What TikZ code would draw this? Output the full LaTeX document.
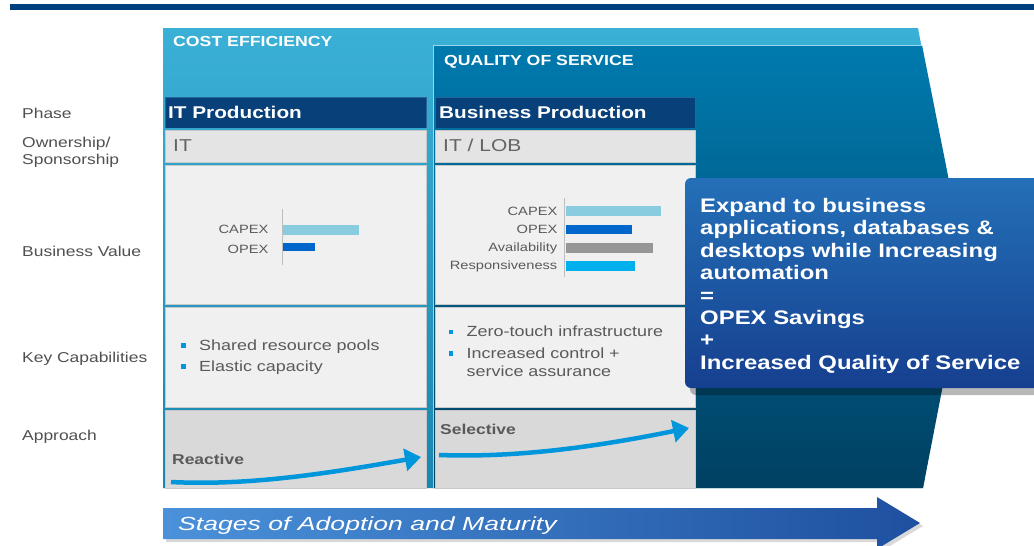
\documentclass[tikz,border=0pt]{standalone}
\usepackage{fontspec}
\setmainfont{Liberation Sans}[FakeStretch=1.22]
\newfontfamily\stagefont{Liberation Sans}[FakeStretch=1.4]
\usetikzlibrary{arrows.meta}
\definecolor{navy}{RGB}{0,62,125}
\definecolor{cyanT}{RGB}{59,176,215}
\definecolor{cyanB}{RGB}{25,135,175}
\definecolor{qosT}{RGB}{0,122,174}
\definecolor{qosB}{RGB}{0,64,98}
\definecolor{qosEdge}{RGB}{150,215,235}
\definecolor{hdr}{RGB}{8,64,122}
\definecolor{hdrEdge}{RGB}{40,100,160}
\definecolor{cellA}{RGB}{228,228,228}
\definecolor{cellB}{RGB}{240,240,240}
\definecolor{cellC}{RGB}{217,217,217}
\definecolor{cellEdge}{RGB}{200,200,200}
\definecolor{lblgray}{RGB}{80,80,80}
\definecolor{txtgray}{RGB}{90,90,90}
\definecolor{owngray}{RGB}{100,100,100}
\definecolor{axisgray}{RGB}{190,190,190}
\definecolor{barlight}{RGB}{137,204,224}
\definecolor{barblue}{RGB}{0,102,204}
\definecolor{bargray}{RGB}{150,150,150}
\definecolor{barcyan}{RGB}{0,176,236}
\definecolor{arrowblue}{RGB}{0,150,220}
\definecolor{callT}{RGB}{36,112,184}
\definecolor{callB}{RGB}{22,63,143}
\definecolor{stageL}{RGB}{75,145,218}
\definecolor{stageR}{RGB}{30,80,160}
\begin{document}
\begin{tikzpicture}[x=1pt,y=-1pt,
  lbl/.style={font=\fontsize{14.3}{17}\selectfont, text=lblgray, anchor=base west, inner sep=0pt},
  band/.style={font=\bfseries\fontsize{14.5}{17}\selectfont, text=white, anchor=base west, inner sep=0pt},
  hdrtxt/.style={font=\bfseries\fontsize{17}{20}\selectfont, text=white, anchor=base west, inner sep=0pt},
  owntxt/.style={font=\fontsize{17.2}{20}\selectfont, text=owngray, anchor=base west, inner sep=0pt},
  bartxt/.style={font=\fontsize{12}{14}\selectfont, text=txtgray, anchor=base east, inner sep=0pt},
  captxt/.style={font=\fontsize{14.7}{18}\selectfont, text=txtgray, anchor=base west, inner sep=0pt},
  apptxt/.style={font=\bfseries\fontsize{14.3}{17}\selectfont, text=txtgray, anchor=base west, inner sep=0pt},
  cellbox/.style={draw=cellEdge, line width=0.7pt},
  bullet/.style={fill=arrowblue},
  approacharrow/.style={draw=arrowblue, line width=4.5pt, -{Triangle[length=16pt,width=22pt]}},
]
\useasboundingbox (0,0) rectangle (1034,546);
\fill[white] (0,0) rectangle (1034,546);
\fill[navy] (10,4) rectangle (1034,9.5);

% background bands
\shade[top color=cyanT, bottom color=cyanB] (163,28) -- (918,28) -- (962,262) -- (923,488) -- (163,488) -- cycle;
\shade[top color=qosT, bottom color=qosB] (433,45) -- (922,45) -- (966,266) -- (923,488) -- (433,488) -- cycle;
\draw[qosEdge, line width=1pt] (433,488) -- (433,45) -- (922,45);

\node[band] (costeff) at (173,46.5) {COST EFFICIENCY};
\node[band] (qos) at (444,65) {QUALITY OF SERVICE};

% left labels
\node[lbl] (phase) at (22,118) {Phase};
\node[lbl] (own1) at (22,147) {Ownership/};
\node[lbl] (own2) at (22,164) {Sponsorship};
\node[lbl] (bval) at (22,256.5) {Business Value};
\node[lbl] (keycap) at (22,362) {Key Capabilities};
\node[lbl] (appr) at (22,440.5) {Approach};

% column 1 cells
\fill[hdr] (165,97) rectangle (426,128);
\draw[hdrEdge, line width=0.8pt] (165,128) -- (165,97) -- (426,97) -- (426,128);
\fill[cellA, cellbox] (165,130) rectangle (426,162);
\fill[cellB, cellbox] (165,165) rectangle (426,304);
\fill[cellB, cellbox] (165,307) rectangle (426,407);
\fill[cellC, cellbox] (165,410) rectangle (426,488);

% column 2 cells
\fill[hdr] (435,97) rectangle (695,128);
\draw[hdrEdge, line width=0.8pt] (435,128) -- (435,97) -- (695,97) -- (695,128);
\fill[cellA, cellbox] (435,130) rectangle (695,162);
\fill[cellB, cellbox] (435,165) rectangle (695,304);
\fill[cellB, cellbox] (435,307) rectangle (695,407);
\fill[cellC, cellbox] (435,410) rectangle (695,488);

\node[hdrtxt] (itprod) at (168,118.5) {IT Production};
\node[hdrtxt] (busprod) at (439,118.5) {Business Production};
\node[owntxt] (it) at (173,151.5) {IT};
\node[owntxt] (itlob) at (443,151.5) {IT / LOB};

% chart 1
\draw[axisgray, line width=1pt] (282,209) -- (282,265);
\fill[barlight] (283,225) rectangle (359,235);
\fill[barblue] (283,242.5) rectangle (315,251);
\node[bartxt] (c1capex) at (268.5,233.5) {CAPEX};
\node[bartxt] (c1opex) at (268.5,253) {OPEX};

% chart 2
\draw[axisgray, line width=1pt] (564,198) -- (564,277);
\fill[barlight] (566,205.7) rectangle (660.5,215.7);
\fill[barblue] (566,225) rectangle (631.5,234);
\fill[bargray] (566,243.3) rectangle (652.5,253.3);
\fill[barcyan] (566,260.7) rectangle (635,270.7);
\node[bartxt] (c2capex) at (557.5,215.7) {CAPEX};
\node[bartxt] (c2opex) at (557.5,233.3) {OPEX};
\node[bartxt] (c2avail) at (557.5,251) {Availability};
\node[bartxt] (c2resp) at (557.5,269) {Responsiveness};

% key capabilities
\fill[bullet] (181.3,343.2) rectangle (185.7,347.6);
\fill[bullet] (181.3,364.2) rectangle (185.7,368.6);
\node[captxt] (shared) at (199,350.5) {Shared resource pools};
\node[captxt] (elastic) at (199,371.5) {Elastic capacity};
\fill[bullet] (448.7,329.5) rectangle (453.1,333.9);
\fill[bullet] (448.7,351.3) rectangle (453.1,355.7);
\node[captxt] (zero) at (466.5,336.5) {Zero-touch infrastructure};
\node[captxt] (incr1) at (466.5,358.3) {Increased control +};
\node[captxt] (incr2) at (466.5,376) {service assurance};

% approach
\node[apptxt] (reactive) at (172,464) {Reactive};
\node[apptxt] (selective) at (440,434) {Selective};
\coordinate (r0) at (171,482);
\coordinate (r1) at (421,457);
\coordinate (s0) at (439,455);
\coordinate (s1) at (689,428);
\draw[approacharrow] (r0) .. controls (250,486) and (330,473) .. (r1);
\draw[approacharrow] (s0) .. controls (520,458) and (600,446) .. (s1);

% callout
\fill[black, opacity=0.28, rounded corners=6pt] (690,184) rectangle (1050,395);
\shade[top color=callT, bottom color=callB, rounded corners=6pt] (685,178) rectangle (1050,388);
\node[font=\bfseries\fontsize{19.6}{22.4}\selectfont, text=white, align=left, anchor=north west, inner sep=0pt] (callout) at (700,198) {Expand to business\\applications, databases \&\\desktops while Increasing\\automation\\=\\OPEX Savings\\+\\Increased Quality of Service};

% stages arrow
\fill[black, opacity=0.15] (166,511) -- (880,511) -- (880,500) -- (923,526) -- (880,552) -- (880,542) -- (166,542) -- cycle;
\shade[left color=stageL, right color=stageR] (163,508) -- (877,508) -- (877,497) -- (920,523) -- (877,549) -- (877,539) -- (163,539) -- cycle;
\node[font=\stagefont\itshape\fontsize{19}{22}\selectfont, text=white, anchor=base west, inner sep=0pt] (stages) at (178,530) {Stages of Adoption and Maturity};
\end{tikzpicture}
\end{document}
